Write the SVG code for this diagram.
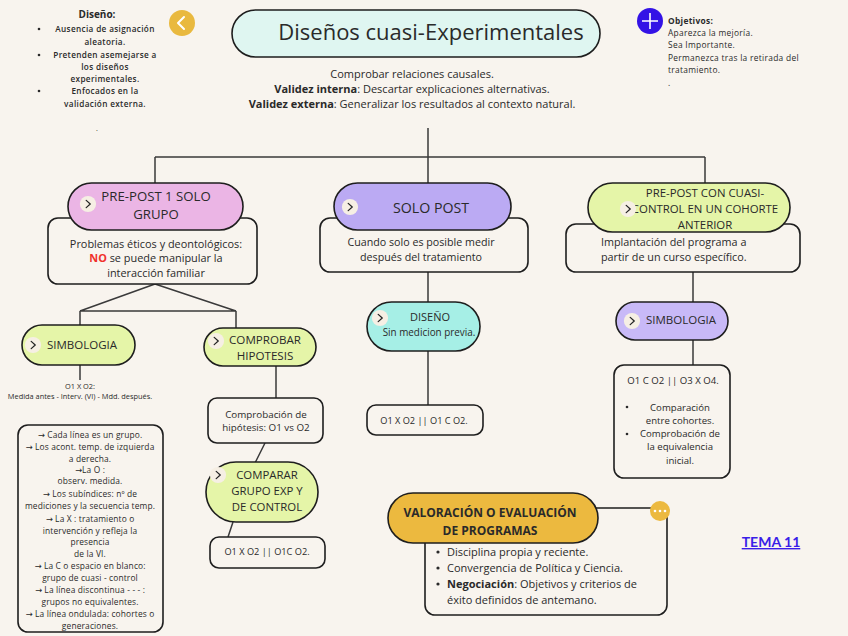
<svg xmlns="http://www.w3.org/2000/svg" width="848" height="636" viewBox="0 0 848 636">
<defs>
<style>
.t{font-family:"Open Sans","Liberation Sans",sans-serif;fill:#2a2a2a}
.ar{font-family:"DejaVu Sans",sans-serif}
.pill{stroke:#1e1e1e;stroke-width:1.6}
.box{fill:#f8f4ee;stroke:#1e1e1e;stroke-width:1.6}
.conn{stroke:#3a3a3a;stroke-width:1.5;fill:none}
.c{text-anchor:middle}
.b{font-weight:bold}
</style>
<symbol id="chev" viewBox="-10 -10 20 20" overflow="visible">
<circle r="9" fill="#f6efe4"/>
<path d="M-2,-4 L2.5,0 L-2,4" fill="none" stroke="#222" stroke-width="1.4" stroke-linecap="round" stroke-linejoin="round"/>
</symbol>
</defs>
<rect width="848" height="636" fill="#f8f4ee"/>

<g id="connectors" class="conn">
<path d="M428,128 V157 M155,157 H705 M155,157 V183 M428,157 V183 M705,157 V183"/>
<path d="M155,284 L80,311 M155,284 L236,311 M80,311 H236 M80,311 V325 M236,311 V328"/>
<path d="M80,365 V380"/>
<path d="M276,366 V398 M265,443 L255,463 M233,522 L228,537"/>
<path d="M428,272 V302 M428,351 V405"/>
<path d="M693,272 V302 M693,340 V365"/>
</g>

<g id="diseno-notes">
<text class="t c b" x="97" y="18" font-size="10">Diseño:</text>
<g font-size="8.2" class="t c" font-weight="600" letter-spacing="0.35">
<text x="105" y="32">Ausencia de asignación</text>
<text x="105" y="45">aleatoria.</text>
<text x="105" y="58">Pretenden asemejarse a</text>
<text x="105" y="70">los diseños</text>
<text x="105" y="82">experimentales.</text>
<text x="105" y="94">Enfocados en la</text>
<text x="105" y="107">validación externa.</text>
</g>
<g fill="#2a2a2a"><circle cx="39" cy="29" r="1.3"/><circle cx="39" cy="55" r="1.3"/><circle cx="39" cy="91" r="1.3"/></g>
<text class="t c" x="97" y="131" font-size="7">.</text>
</g>

<g id="back-btn">
<circle cx="182" cy="23" r="13" fill="#e9b93f"/>
<path d="M184,17 L178,23 L184,29" fill="none" stroke="#fff" stroke-width="2" stroke-linecap="round" stroke-linejoin="round"/>
</g>

<g id="title">
<rect class="pill" x="232" y="10" width="368" height="47" rx="23.5" fill="#dff6f1"/>
<text class="t c" x="431" y="40" font-size="22">Diseños cuasi-Experimentales</text>
</g>

<g id="objetivos">
<circle cx="650" cy="21" r="13" fill="#3312e6"/>
<path d="M650,13 V29 M642,21 H658" stroke="#fff" stroke-width="1.6"/>
<g class="t" font-size="8.4" letter-spacing="0.3">
<text class="b" x="668" y="24">Objetivos:</text>
<text x="668" y="36">Aparezca la mejoría.</text>
<text x="668" y="48">Sea Importante.</text>
<text x="668" y="61">Permanezca tras la retirada del</text>
<text x="668" y="73">tratamiento.</text>
<text x="668" y="86">.</text>
</g>
</g>

<g id="intro" class="t c" font-size="11">
<text x="412" y="78">Comprobar relaciones causales.</text>
<text x="412" y="93"><tspan class="b">Validez interna</tspan>: Descartar explicaciones alternativas.</text>
<text x="412" y="108"><tspan class="b">Validez externa</tspan>: Generalizar los resultados al contexto natural.</text>
</g>

<g id="prepost1">
<rect class="box" x="48" y="218" width="209" height="66" rx="10"/>
<rect class="pill" x="68" y="183" width="175" height="47" rx="23.5" fill="#ebb5e5"/>
<text class="t c" x="156" y="201" font-size="13.2">PRE-POST 1 SOLO</text>
<text class="t c" x="156" y="219" font-size="13.2">GRUPO</text>
<use href="#chev" x="79" y="195" width="18" height="18"/>
<g class="t c" font-size="10.9">
<text x="156" y="248">Problemas éticos y deontológicos:</text>
<text x="156" y="262"><tspan fill="#f0302a" class="b">NO</tspan> se puede manipular la</text>
<text x="156" y="277">interacción familiar</text>
</g>
</g>

<g id="simbologia-left">
<rect class="pill" x="22" y="325" width="113" height="40" rx="20" fill="#e5f5a8"/>
<text class="t c" x="82" y="349" font-size="11.5">SIMBOLOGIA</text>
<use href="#chev" x="24" y="336" width="18" height="18"/>
<g class="t c" font-size="7.4">
<text x="80" y="389">O1 X O2:</text>
<text x="80" y="399">Medida antes - Interv. (VI) - Mdd. después.</text>
</g>
</g>

<g id="leyenda">
<rect class="box" x="18" y="425" width="145" height="207" rx="10"/>
<g class="t c" font-size="8.4" letter-spacing="0.15">
<text x="90" y="438"><tspan class="ar">→</tspan> Cada línea es un grupo.</text>
<text x="90" y="450"><tspan class="ar">→</tspan> Los acont. temp.  de izquierda</text>
<text x="90" y="462">a derecha.</text>
<text x="90" y="473"><tspan class="ar">→</tspan>La O :</text>
<text x="90" y="484">observ.  medida.</text>
<text x="90" y="497"><tspan class="ar">→</tspan> Los subíndices:  nº de</text>
<text x="90" y="509">mediciones y la secuencia temp.</text>
<text x="90" y="522"><tspan class="ar">→</tspan> La X : tratamiento o</text>
<text x="90" y="534">intervención y refleja la</text>
<text x="90" y="545">presencia</text>
<text x="90" y="557">de la VI.</text>
<text x="90" y="569"><tspan class="ar">→</tspan> La C o espacio en blanco:</text>
<text x="90" y="581">grupo de cuasi - control</text>
<text x="90" y="593"><tspan class="ar">→</tspan>  La línea discontinua - - - :</text>
<text x="90" y="605">grupos no equivalentes.</text>
<text x="90" y="617"><tspan class="ar">→</tspan> La línea ondulada: cohortes o</text>
<text x="90" y="629">generaciones.</text>
</g>
</g>

<g id="comprobar">
<rect class="pill" x="204" y="328" width="112" height="38" rx="19" fill="#e5f5a8"/>
<text class="t c" x="265" y="344" font-size="11.6">COMPROBAR</text>
<text class="t c" x="265" y="360" font-size="11.6">HIPOTESIS</text>
<use href="#chev" x="207" y="332" width="18" height="18"/>
</g>

<g id="comprobacion">
<rect class="box" x="208" y="398" width="115" height="45" rx="9"/>
<text class="t c" x="266" y="418" font-size="9.8">Comprobación de</text>
<text class="t c" x="266" y="431" font-size="9.8">hipótesis: O1 vs O2</text>
</g>

<g id="comparar">
<rect class="pill" x="206" y="462" width="112" height="60" rx="30" fill="#e5f5a8"/>
<text class="t c" x="267" y="479" font-size="11.4">COMPARAR</text>
<text class="t c" x="267" y="495" font-size="11.4">GRUPO EXP Y</text>
<text class="t c" x="267" y="511" font-size="11.4">DE CONTROL</text>
<use href="#chev" x="209" y="466" width="18" height="18"/>
</g>

<g id="comparar-sim">
<rect class="box" x="210" y="537" width="115" height="31" rx="9"/>
<text class="t c" x="267" y="555" font-size="9.2">O1 X O2 || O1C O2.</text>
</g>

<g id="solopost">
<rect class="box" x="320" y="218" width="208" height="54" rx="10"/>
<rect class="pill" x="334" y="183" width="177" height="47" rx="23.5" fill="#bbaaf3"/>
<text class="t c" x="431" y="213" font-size="14.2">SOLO POST</text>
<use href="#chev" x="341" y="198" width="18" height="18"/>
<text class="t c" x="421" y="246" font-size="10.7">Cuando solo es posible medir</text>
<text class="t c" x="421" y="261" font-size="10.7">después del tratamiento</text>
</g>

<g id="diseno">
<rect class="pill" x="367" y="302" width="113" height="49" rx="24.5" fill="#a6efe6"/>
<text class="t c" x="430" y="321" font-size="11">DISEÑO</text>
<text class="t c" x="429" y="336" font-size="9.9">Sin medicion previa.</text>
<use href="#chev" x="371" y="309" width="18" height="18"/>
</g>

<g id="diseno-sim">
<rect class="box" x="367" y="405" width="116" height="30" rx="9"/>
<text class="t c" x="424" y="424" font-size="9.2">O1 X O2 || O1 C O2.</text>
</g>

<g id="prepostcohorte">
<rect class="box" x="566" y="224" width="234" height="48" rx="10"/>
<rect class="pill" x="588" y="183" width="202" height="49" rx="24.5" fill="#e5f5a8"/>
<text class="t c" x="705" y="197" font-size="11.4">PRE-POST CON CUASI-</text>
<text class="t c" x="705" y="213" font-size="11.4">CONTROL EN UN COHORTE</text>
<text class="t c" x="705" y="229" font-size="11.4">ANTERIOR</text>
<use href="#chev" x="619" y="200" width="18" height="18"/>
<text class="t" x="601" y="246" font-size="10.8">Implantación del programa a</text>
<text class="t" x="601" y="261" font-size="10.8">partir de un curso específico.</text>
</g>

<g id="simbologia-right">
<rect class="pill" x="616" y="302" width="112" height="38" rx="19" fill="#c8b9f7"/>
<text class="t c" x="681" y="324" font-size="11.5">SIMBOLOGIA</text>
<use href="#chev" x="623" y="312" width="18" height="18"/>
</g>

<g id="cohorte-sim">
<rect class="box" x="614" y="365" width="116" height="113" rx="10"/>
<g class="t c" font-size="9.6">
<text x="673" y="384">O1 C O2 || O3 X O4.</text>
<text x="680" y="411">Comparación</text>
<text x="680" y="424">entre cohortes.</text>
<text x="680" y="437">Comprobación de</text>
<text x="680" y="450">la equivalencia</text>
<text x="680" y="464">inicial.</text>
</g>
<g fill="#2a2a2a"><circle cx="627" cy="407" r="1.3"/><circle cx="627" cy="434" r="1.3"/></g>
</g>

<g id="valoracion">
<rect class="box" x="425" y="508" width="242" height="107" rx="10"/>
<rect class="pill" x="388" y="493" width="210" height="50" rx="25" fill="#ecb93f"/>
<text class="t c b" x="490" y="517" font-size="12">VALORACIÓN O EVALUACIÓN</text>
<text class="t c b" x="490" y="535" font-size="12">DE PROGRAMAS</text>
<circle cx="660" cy="511" r="10" fill="#ecb93f"/>
<g fill="#fff"><circle cx="655" cy="511" r="1.3"/><circle cx="660" cy="511" r="1.3"/><circle cx="665" cy="511" r="1.3"/></g>
<g class="t" font-size="11">
<text x="447" y="556">Disciplina propia y reciente.</text>
<text x="447" y="572">Convergencia de Política y Ciencia.</text>
<text x="447" y="588"><tspan class="b">Negociación</tspan>: Objetivos y criterios de</text>
<text x="447" y="604">éxito definidos de antemano.</text>
</g>
<g fill="#2a2a2a"><circle cx="438" cy="552" r="1.6"/><circle cx="438" cy="568" r="1.6"/><circle cx="438" cy="584" r="1.6"/></g>
</g>

<g id="tema">
<text x="771" y="547" font-family="Lato,'Liberation Sans',sans-serif" font-size="14" font-weight="bold" fill="#3a1ee8" text-anchor="middle" text-decoration="underline">TEMA 11</text>
</g>
</svg>
